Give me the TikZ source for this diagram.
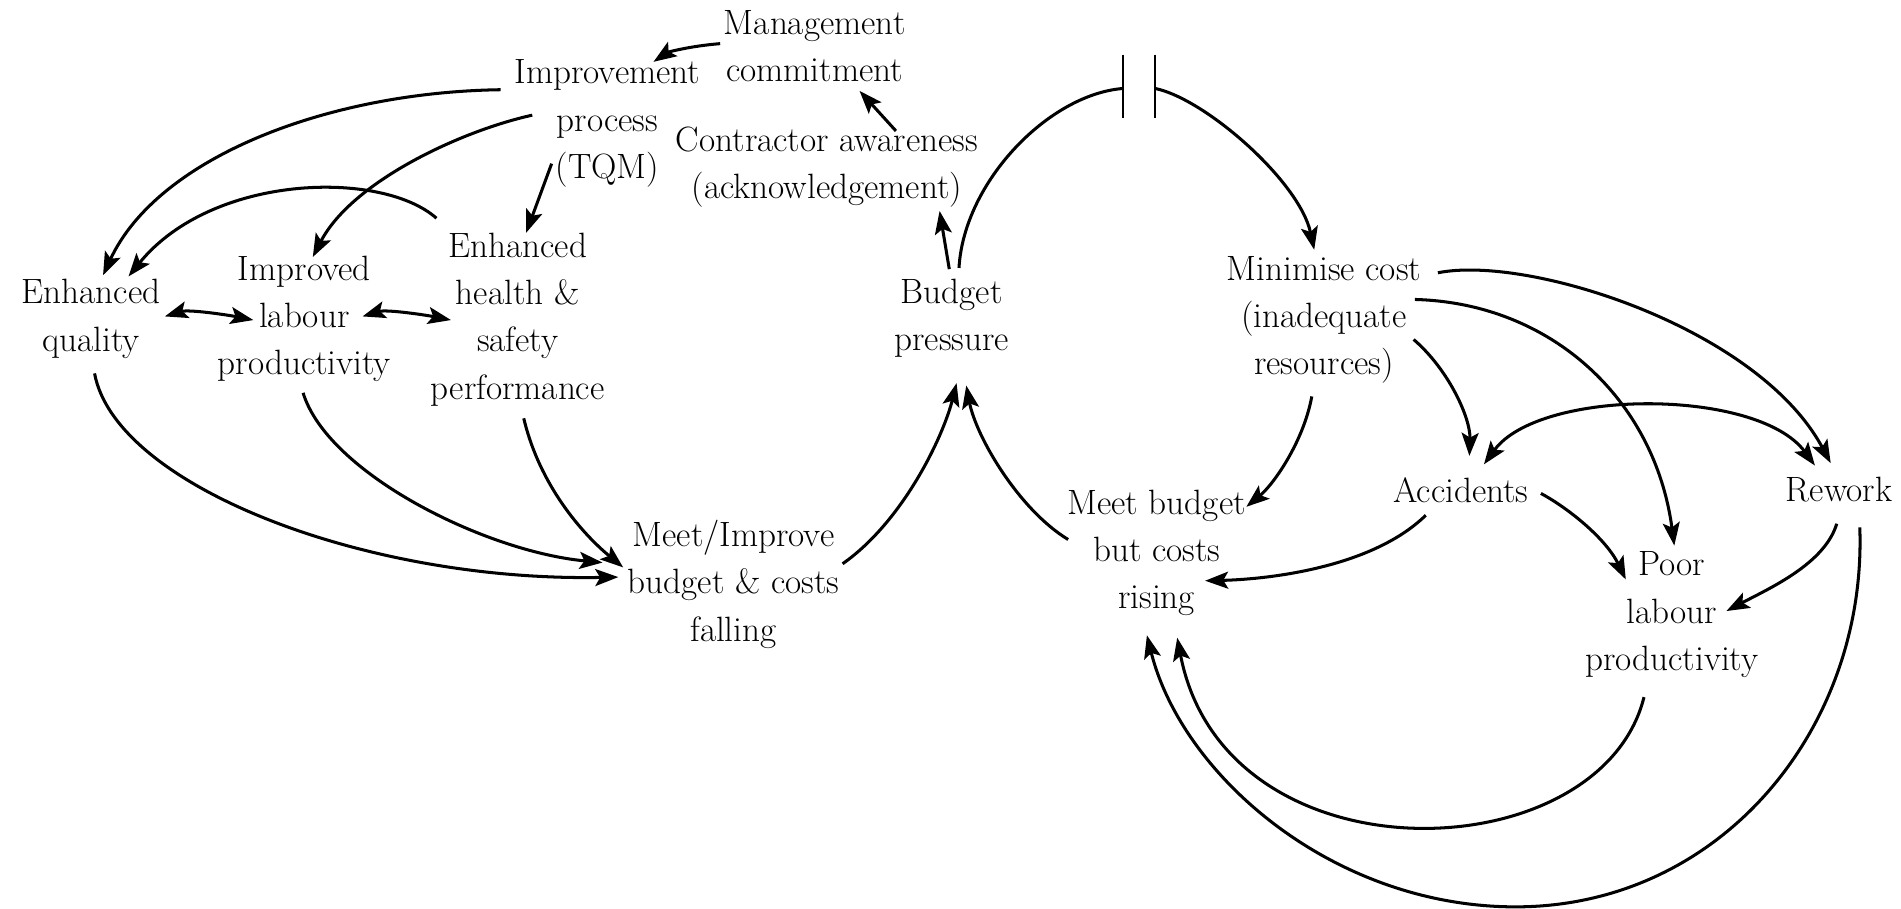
\documentclass[tikz,border=0pt]{standalone}
\usetikzlibrary{arrows.meta}
\begin{document}
\begin{tikzpicture}[x=1pt,y=-1pt,
  lbl/.style={align=center,inner sep=0pt,font=\rmfamily\fontsize{29}{39}\selectfont},
  tipA/.tip={Stealth[length=19pt,width=14pt,inset=4pt]},
  conn/.style={line width=2.5pt,-tipA},
  dconn/.style={line width=2.5pt,tipA-tipA},
  plainln/.style={line width=2.5pt},
  brk/.style={line width=1.8pt}]
\useasboundingbox (0,0) rectangle (1568,749);

\node[lbl] (mgmt) at (672,38) {Management\\commitment};
\node[lbl] (imp) at (501,102) {Improvement\\process\\(TQM)};
\node[lbl] (contr) at (682,138) {Contractor awareness\\(acknowledgement)};
\node[lbl] (qual) at (75,263) {Enhanced\\quality};
\node[lbl] (lab) at (251,263) {Improved\\labour\\productivity};
\node[lbl] (hs) at (427,263.5) {Enhanced\\health \&\\safety\\performance};
\node[lbl] (bp) at (785,262.5) {Budget\\pressure};
\node[lbl] (meet) at (605,482) {Meet/Improve\\budget \& costs\\falling};
\node[lbl] (minc) at (1092,264) {Minimise cost\\(inadequate\\resources)};
\node[lbl] (rise) at (954,456) {Meet budget\\but costs\\rising};
\node[lbl] (acc) at (1205,404) {Accidents};
\node[lbl] (rew) at (1517,404) {Rework};
\node[lbl] (poor) at (1379,507) {Poor\\labour\\productivity};

\coordinate (brkL) at (926,73);
\coordinate (brkR) at (953,73);

% upper left
\draw[conn] ([shift={(-78,-2)}]mgmt.center) .. controls +(-25,2) and +(12,-8) .. ([shift={(38,-51)}]imp.center);
\draw[conn] ([shift={(57,-30)}]contr.center) -- ([shift={(37,37)}]mgmt.center);
\draw[conn] ([shift={(-2,-40.5)}]bp.center) -- ([shift={(93,36)}]contr.center);
\draw[conn] ([shift={(-88,-28)}]imp.center) .. controls +(-143,2) and +(45,-97) .. ([shift={(10,-36)}]qual.center);
\draw[conn] ([shift={(-62,-7)}]imp.center) .. controls +(-59,13) and +(32,-62) .. ([shift={(7,-51)}]lab.center);
\draw[conn] ([shift={(-46,33)}]imp.center) -- ([shift={(7,-71.5)}]hs.center);
\draw[conn] ([shift={(-67,-83.5)}]hs.center) .. controls +(-45,-40) and +(69,-85) .. ([shift={(31,-35)}]qual.center);
\draw[dconn] ([shift={(61,-2)}]qual.center) .. controls +(20,-6) and +(-20,-4) .. ([shift={(-42,1)}]lab.center);
\draw[dconn] ([shift={(48,-2)}]lab.center) .. controls +(20,-6) and +(-20,-4) .. ([shift={(-55,0.5)}]hs.center);

% lower left
\draw[conn] ([shift={(3,45)}]qual.center) .. controls +(17,92) and +(-210,4) .. ([shift={(-95,-6)}]meet.center);
\draw[conn] ([shift={(-1,61)}]lab.center) .. controls +(20,66) and +(-97,-9) .. ([shift={(-108,-18)}]meet.center);
\draw[conn] ([shift={(5,81.5)}]hs.center) .. controls +(13,55) and +(-34,-28) .. ([shift={(-91,-14)}]meet.center);
\draw[conn] ([shift={(90,-17)}]meet.center) .. controls +(50,-35) and +(-11,44) .. ([shift={(4,53.5)}]bp.center);
\draw[conn] ([shift={(-73,-11)}]rise.center) .. controls +(-41,-25) and +(8,42) .. ([shift={(12,55.5)}]bp.center);

% break link
\draw[plainln] ([shift={(6,-41.5)}]bp.center) .. controls +(4,-71) and +(-61,5) .. (brkL);
\draw[conn] (brkR) .. controls +(42,9) and +(-12,-56) .. ([shift={(-8,-58)}]minc.center);
\draw[brk] ([shift={(0,-28)}]brkL) -- ([shift={(0,24)}]brkL);
\draw[brk] ([shift={(0,-28)}]brkR) -- ([shift={(0,24)}]brkR);

% right part
\draw[conn] ([shift={(-10,63)}]minc.center) .. controls +(-7,38) and +(22,-18) .. ([shift={(74,-38)}]rise.center);
\draw[conn] ([shift={(74,16)}]minc.center) .. controls +(29,25) and +(1,-31) .. ([shift={(7,-28)}]acc.center);
\draw[conn] ([shift={(75,-17)}]minc.center) .. controls +(113,3) and +(-16,-120) .. ([shift={(2,-57)}]poor.center);
\draw[conn] ([shift={(94,-39)}]minc.center) .. controls +(74,-15) and +(-60,-112) .. ([shift={(-7,-22)}]rew.center);
\draw[dconn] ([shift={(19,-21)}]acc.center) .. controls +(46,-63) and +(-47,-64) .. ([shift={(-20,-20)}]rew.center);
\draw[conn] ([shift={(-29,21)}]acc.center) .. controls +(-46,45) and +(46,-1) .. ([shift={(40,23)}]rise.center);
\draw[conn] ([shift={(66,3)}]acc.center) .. controls +(24,13) and +(-16,-33) .. ([shift={(-38,-29)}]poor.center);
\draw[conn] ([shift={(-2,28)}]rew.center) .. controls +(-10,33) and +(36,-19) .. ([shift={(45,-3)}]poor.center);
\draw[conn] ([shift={(-23,68)}]poor.center) .. controls +(-36,145) and +(39,204) .. ([shift={(17,70)}]rise.center);
\draw[conn] ([shift={(17,31)}]rew.center) .. controls +(6,165) and (1420,748) .. (1250,748) .. controls (1100,748) and +(29,116) .. ([shift={(-8,68)}]rise.center);
\end{tikzpicture}
\end{document}
